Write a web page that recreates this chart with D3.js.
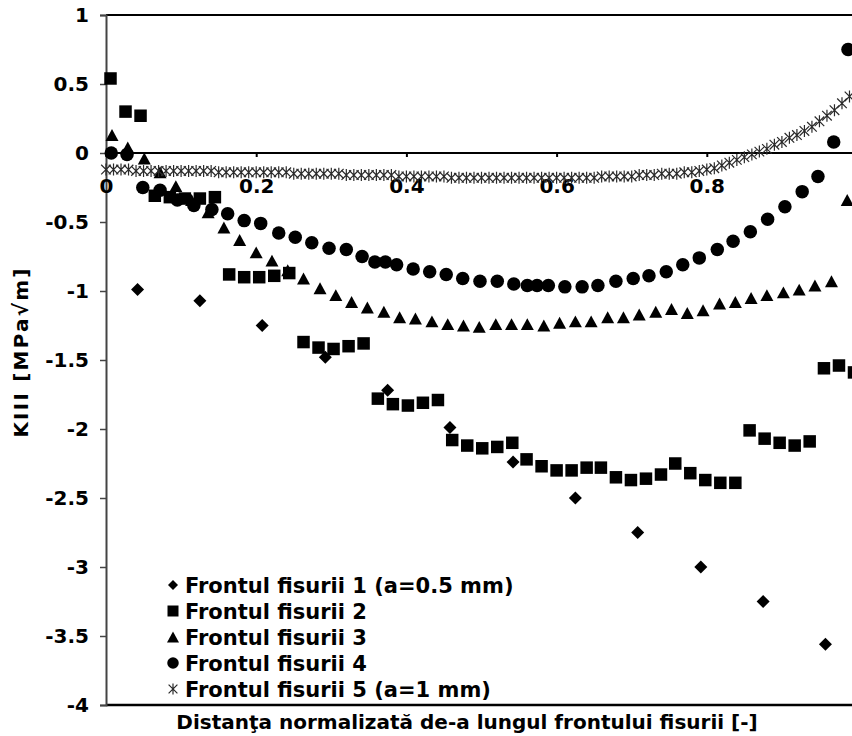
<!DOCTYPE html>
<html>
<head>
<meta charset="utf-8">
<script src="https://cdn.jsdelivr.net/npm/d3@7/dist/d3.min.js"></script>
<style>
  body { margin: 0; background: #fff; }
  svg { display: block; }
  text { font-family: "DejaVu Sans", Verdana, sans-serif; font-weight: bold; fill: #000; }
</style>
</head>
<body>
<svg id="chart" width="852" height="736"></svg>
<script>
// ---- tick labels ----
const xTickValues = [0, 0.2, 0.4, 0.6, 0.8];
const yTickValues = [1, 0.5, 0, -0.5, -1, -1.5, -2, -2.5, -3, -3.5, -4];

// ---- series names ----
const seriesNames = [
  "Frontul fisurii 1 (a=0.5 mm)",
  "Frontul fisurii 2",
  "Frontul fisurii 3",
  "Frontul fisurii 4",
  "Frontul fisurii 5 (a=1 mm)"
];

// ---- Frontul fisurii 1 (diamonds) ----
const front1X = [0.042, 0.125, 0.208, 0.292, 0.375, 0.458, 0.542, 0.625, 0.708, 0.792, 0.875, 0.958];
const front1Y = [-0.99, -1.07, -1.25, -1.48, -1.72, -1.99, -2.24, -2.50, -2.75, -3.00, -3.25, -3.56];

// ---- Frontul fisurii 2 (squares) ----
const front2X = [0.006, 0.026, 0.046, 0.065, 0.085, 0.105, 0.125, 0.145, 0.164, 0.184,
                 0.204, 0.224, 0.244, 0.263, 0.283, 0.303, 0.323, 0.343, 0.362, 0.382,
                 0.402, 0.422, 0.442, 0.461, 0.481, 0.501, 0.521, 0.541, 0.560, 0.580,
                 0.600, 0.620, 0.640, 0.659, 0.679, 0.699, 0.719, 0.739, 0.758, 0.778,
                 0.798, 0.818, 0.838, 0.857, 0.877, 0.897, 0.917, 0.937, 0.956, 0.976, 0.996];
const front2Y = [0.54, 0.30, 0.27, -0.31, -0.32, -0.33, -0.33, -0.32, -0.88, -0.90,
                 -0.90, -0.89, -0.87, -1.37, -1.41, -1.42, -1.40, -1.38, -1.78, -1.82,
                 -1.83, -1.81, -1.79, -2.08, -2.12, -2.14, -2.13, -2.10, -2.22, -2.27,
                 -2.30, -2.30, -2.28, -2.28, -2.35, -2.37, -2.36, -2.33, -2.25, -2.32,
                 -2.37, -2.39, -2.39, -2.01, -2.07, -2.10, -2.12, -2.09, -1.56, -1.54, -1.59];

// ---- Frontul fisurii 3 (triangles) ----
const front3X = [0.008, 0.029, 0.051, 0.072, 0.093, 0.114, 0.136, 0.157, 0.178, 0.200,
                 0.221, 0.242, 0.263, 0.285, 0.306, 0.327, 0.348, 0.370, 0.391, 0.412,
                 0.434, 0.455, 0.476, 0.497, 0.519, 0.540, 0.561, 0.583, 0.604, 0.625,
                 0.646, 0.668, 0.689, 0.710, 0.732, 0.753, 0.774, 0.795, 0.817, 0.838,
                 0.859, 0.880, 0.902, 0.923, 0.944, 0.966, 0.987];
const front3Y = [0.13, 0.04, -0.04, -0.14, -0.24, -0.34, -0.43, -0.54, -0.63, -0.72,
                 -0.78, -0.85, -0.91, -0.98, -1.03, -1.08, -1.12, -1.15, -1.19, -1.20,
                 -1.22, -1.24, -1.25, -1.26, -1.24, -1.24, -1.24, -1.25, -1.23, -1.22,
                 -1.22, -1.19, -1.19, -1.17, -1.15, -1.13, -1.16, -1.14, -1.09, -1.08,
                 -1.05, -1.03, -1.01, -0.99, -0.96, -0.93, -0.34];

// ---- Frontul fisurii 4 (circles) ----
const front4X = [0.007, 0.028, 0.049, 0.072, 0.095, 0.117, 0.141, 0.162, 0.184, 0.206,
                 0.230, 0.252, 0.274, 0.297, 0.320, 0.341, 0.358, 0.372, 0.387, 0.409,
                 0.431, 0.453, 0.475, 0.498, 0.521, 0.543, 0.561, 0.574, 0.589, 0.611,
                 0.634, 0.655, 0.679, 0.702, 0.723, 0.746, 0.768, 0.790, 0.814, 0.835,
                 0.858, 0.881, 0.904, 0.927, 0.948, 0.969, 0.988];
const front4Y = [0.00, -0.01, -0.25, -0.27, -0.34, -0.38, -0.41, -0.44, -0.49, -0.51,
                 -0.58, -0.61, -0.65, -0.69, -0.70, -0.75, -0.79, -0.79, -0.81, -0.84,
                 -0.86, -0.88, -0.91, -0.93, -0.93, -0.95, -0.96, -0.96, -0.96, -0.97,
                 -0.97, -0.96, -0.93, -0.91, -0.89, -0.86, -0.81, -0.76, -0.70, -0.64,
                 -0.57, -0.48, -0.39, -0.28, -0.17, 0.08, 0.75];

// ---- Frontul fisurii 5 (asterisks) ----
const front5X = [0.00, 0.01, 0.02, 0.03, 0.04, 0.05, 0.06, 0.07, 0.08, 0.09,
                 0.10, 0.11, 0.12, 0.13, 0.14, 0.15, 0.16, 0.17, 0.18, 0.19,
                 0.20, 0.21, 0.22, 0.23, 0.24, 0.25, 0.26, 0.27, 0.28, 0.29,
                 0.30, 0.31, 0.32, 0.33, 0.34, 0.35, 0.36, 0.37, 0.38, 0.39,
                 0.40, 0.41, 0.42, 0.43, 0.44, 0.45, 0.46, 0.47, 0.48, 0.49,
                 0.50, 0.51, 0.52, 0.53, 0.54, 0.55, 0.56, 0.57, 0.58, 0.59,
                 0.60, 0.61, 0.62, 0.63, 0.64, 0.65, 0.66, 0.67, 0.68, 0.69,
                 0.70, 0.71, 0.72, 0.73, 0.74, 0.75, 0.76, 0.77, 0.78, 0.79,
                 0.80, 0.81, 0.82, 0.83, 0.84, 0.85, 0.86, 0.87, 0.88, 0.89,
                 0.90, 0.91, 0.92, 0.93, 0.94, 0.95, 0.96, 0.97, 0.98, 0.99, 1.00];
const front5Y = [-0.12, -0.12, -0.12, -0.12, -0.13, -0.13, -0.13, -0.13, -0.13, -0.13,
                 -0.13, -0.13, -0.13, -0.13, -0.13, -0.14, -0.14, -0.14, -0.14, -0.14,
                 -0.14, -0.14, -0.14, -0.14, -0.14, -0.15, -0.15, -0.15, -0.15, -0.15,
                 -0.15, -0.15, -0.16, -0.16, -0.16, -0.16, -0.16, -0.16, -0.16, -0.17,
                 -0.17, -0.17, -0.17, -0.17, -0.17, -0.17, -0.18, -0.18, -0.18, -0.18,
                 -0.18, -0.18, -0.18, -0.18, -0.18, -0.18, -0.18, -0.18, -0.18, -0.18,
                 -0.18, -0.18, -0.18, -0.18, -0.18, -0.18, -0.17, -0.17, -0.17, -0.17,
                 -0.17, -0.16, -0.16, -0.16, -0.15, -0.15, -0.15, -0.14, -0.14, -0.13,
                 -0.12, -0.11, -0.09, -0.07, -0.05, -0.03, -0.01, 0.01, 0.03, 0.06,
                 0.08, 0.11, 0.13, 0.16, 0.19, 0.23, 0.27, 0.31, 0.36, 0.41, 0.46];

// ---- layout ----
const svg = d3.select("#chart");
const plot = { left: 106, top: 15, right: 857, bottom: 705 };

const x = d3.scaleLinear().domain([0, 1]).range([plot.left, plot.right]);
const y = d3.scaleLinear().domain([-4, 1]).range([plot.bottom, plot.top]);

// ---- marker shapes (centred on their bounding boxes) ----
const shapes = {
  diamond: s => `M0,${-s/2}L${s/2},0L0,${s/2}L${-s/2},0Z`,
  square: s => `M${-s/2},${-s/2}h${s}v${s}h${-s}Z`,
  triangle: s => `M0,${-s*0.46}L${s/2},${s*0.46}L${-s/2},${s*0.46}Z`,
  circle: s => `M${s/2},0A${s/2},${s/2},0,1,1,${-s/2},0A${s/2},${s/2},0,1,1,${s/2},0Z`,
  star: s => {
    const h = s / 2, d = s * 0.4;
    return `M0,${-h}V${h}M${-d},${-d}L${d},${d}M${-d},${d}L${d},${-d}`;
  }
};

const series = [
  { name: seriesNames[0], xs: front1X, ys: front1Y, shape: "diamond",  size: 13,   legendSize: 10 },
  { name: seriesNames[1], xs: front2X, ys: front2Y, shape: "square",   size: 12.5, legendSize: 11 },
  { name: seriesNames[2], xs: front3X, ys: front3Y, shape: "triangle", size: 13,   legendSize: 12 },
  { name: seriesNames[3], xs: front4X, ys: front4Y, shape: "circle",   size: 13.5, legendSize: 11.5 },
  { name: seriesNames[4], xs: front5X, ys: front5Y, shape: "star",     size: 12,   legendSize: 11 }
];

function styleMarker(sel, shape) {
  if (shape === "star") {
    sel.attr("fill", "none").attr("stroke", "#2a2a2a").attr("stroke-width", 1.2);
  } else {
    sel.attr("fill", "#000").attr("stroke", "none");
  }
}

// ---- plot frame ----
svg.append("line")
  .attr("x1", plot.left).attr("x2", 852)
  .attr("y1", plot.top).attr("y2", plot.top)
  .attr("stroke", "#000").attr("stroke-width", 2);
svg.append("line")
  .attr("x1", plot.left).attr("x2", 852)
  .attr("y1", plot.bottom).attr("y2", plot.bottom)
  .attr("stroke", "#000").attr("stroke-width", 2.5);

// ---- y axis ----
const yAxis = d3.axisLeft(y)
  .tickValues(yTickValues)
  .tickSize(6)
  .tickPadding(11)
  .tickFormat(d => String(d));
const gy = svg.append("g").attr("transform", `translate(${plot.left},0)`).call(yAxis);
gy.select(".domain").attr("stroke", "#444").attr("stroke-width", 2);
gy.selectAll(".tick line").attr("stroke", "#444").attr("stroke-width", 1.5);
gy.selectAll(".tick text")
  .attr("font-size", 20).attr("font-family", "DejaVu Sans, Verdana, sans-serif")
  .attr("font-weight", "bold").attr("fill", "#000");

// ---- x axis, drawn at y = 0 ----
const xAxis = d3.axisBottom(x)
  .tickValues(xTickValues)
  .tickSize(4)
  .tickPadding(22)
  .tickFormat(d => String(d));
const gx = svg.append("g").attr("transform", `translate(0,${y(0)})`).call(xAxis);
gx.select(".domain").remove();
gx.append("line")
  .attr("x1", plot.left).attr("x2", 852).attr("y1", 0).attr("y2", 0)
  .attr("stroke", "#000").attr("stroke-width", 2);
gx.selectAll(".tick line").attr("stroke", "#000").attr("stroke-width", 2);
gx.selectAll(".tick text")
  .attr("font-size", 20).attr("font-family", "DejaVu Sans, Verdana, sans-serif")
  .attr("font-weight", "bold").attr("fill", "#000");

// ---- markers ----
series.forEach(s => {
  const pts = s.xs.map((v, i) => [v, s.ys[i]]);
  const g = svg.append("g").attr("class", "series");
  g.selectAll("path")
    .data(pts)
    .join("path")
    .attr("transform", d => `translate(${x(d[0])},${y(d[1])})`)
    .attr("d", shapes[s.shape](s.size))
    .call(styleMarker, s.shape);
});

// ---- legend ----
const legend = svg.append("g").attr("class", "legend");
series.forEach((s, i) => {
  const cy = 585 + i * 26;
  legend.append("path")
    .attr("transform", `translate(173,${cy})`)
    .attr("d", shapes[s.shape](s.legendSize))
    .call(styleMarker, s.shape);
  legend.append("text")
    .attr("x", 185).attr("y", cy).attr("dy", "0.36em")
    .attr("font-size", 21)
    .text(s.name);
});

// ---- axis titles ----
svg.append("text")
  .attr("x", 467).attr("y", 722).attr("dy", "0.36em")
  .attr("text-anchor", "middle")
  .attr("font-size", 20)
  .text("Distanţa normalizată de-a lungul frontului fisurii [-]");

svg.append("text")
  .attr("transform", "translate(21,352) rotate(-90)")
  .attr("text-anchor", "middle")
  .attr("dy", "0.36em")
  .attr("font-size", 20)
  .attr("letter-spacing", 2.2)
  .text("KIII [MPa√m]");
</script>
</body>
</html>
